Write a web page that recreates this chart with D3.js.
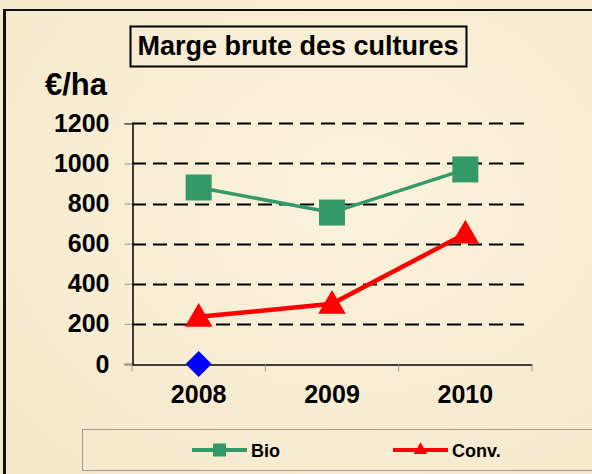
<!DOCTYPE html>
<html>
<head>
<meta charset="utf-8">
<script src="https://cdn.jsdelivr.net/npm/d3@7"></script>
<style>
  body { margin: 0; background: #f8eed6; }
  svg { display: block; font-family: "Liberation Sans", Arial, sans-serif; font-weight: bold; }
</style>
</head>
<body>
<div id="chart"></div>
<script>
// data
var years = ["2008", "2009", "2010"];
var bio = [880, 755, 970];
var conv = [235, 300, 650];
var extra = [0];            // lone blue point at 2008
var yTicks = [0, 200, 400, 600, 800, 1000, 1200];
var seriesNames = ["Bio", "Conv."];

var W = 592, H = 474;

var svg = d3.select("#chart")
  .append("svg")
  .attr("width", W)
  .attr("height", H);

// parchment background
var defs = svg.append("defs");
var grad = defs.append("radialGradient").attr("id", "bg")
  .attr("cx", "60%").attr("cy", "40%").attr("r", "80%");
grad.append("stop").attr("offset", "0%").attr("stop-color", "#fbf2dc");
grad.append("stop").attr("offset", "100%").attr("stop-color", "#f5e9cc");
svg.append("rect").attr("width", W).attr("height", H).attr("fill", "url(#bg)");

// chart frame (top and left edges visible)
svg.append("line").attr("x1", 3).attr("x2", W).attr("y1", 10).attr("y2", 10)
  .attr("stroke", "#111").attr("stroke-width", 2);
svg.append("line").attr("x1", 4.5).attr("x2", 4.5).attr("y1", 9).attr("y2", H)
  .attr("stroke", "#111").attr("stroke-width", 3);

// scales
var x = d3.scaleBand().domain(years).range([132, 532]).padding(0);
var y = d3.scaleLinear().domain([0, 1200]).range([364, 123.3]);
var cx = function (d) { return x(d) + x.bandwidth() / 2; };

// dashed gridlines
svg.append("g")
  .selectAll("line")
  .data(yTicks.filter(function (d) { return d > 0; }))
  .enter()
  .append("line")
  .attr("x1", 132).attr("x2", 528)
  .attr("y1", function (d) { return Math.round(y(d)) + 0.5; })
  .attr("y2", function (d) { return Math.round(y(d)) + 0.5; })
  .attr("stroke", "#000")
  .attr("stroke-width", 2)
  .attr("stroke-dasharray", "14,7");

// y axis
var yAxis = svg.append("g")
  .attr("transform", "translate(132.5,0)")
  .call(d3.axisLeft(y).tickValues(yTicks).tickFormat(d3.format("d")).tickSize(8).tickPadding(15));
yAxis.select(".domain").attr("stroke", "#000").attr("stroke-width", 1.5);
yAxis.selectAll(".tick line").attr("stroke", "#999");
yAxis.selectAll(".tick text")
  .attr("fill", "#000")
  .style("font-size", "25px")
  .style("font-weight", "bold");

// x axis: labels at category centres, tick marks at band edges
var xAxis = svg.append("g")
  .attr("transform", "translate(0,364.5)")
  .call(d3.axisBottom(x).tickSize(0).tickPadding(21));
xAxis.select(".domain").attr("stroke", "#000").attr("stroke-width", 1.5);
xAxis.selectAll(".tick text")
  .attr("fill", "#000")
  .style("font-size", "25px")
  .style("font-weight", "bold");
xAxis.selectAll(".edge")
  .data(d3.range(years.length + 1))
  .enter()
  .append("line")
  .attr("x1", function (i) { return 132 + i * x.step(); })
  .attr("x2", function (i) { return 132 + i * x.step(); })
  .attr("y1", 0).attr("y2", 7)
  .attr("stroke", "#999");

// lines
var line = d3.line()
  .x(function (d, i) { return cx(years[i]); })
  .y(function (d) { return y(d); });

svg.append("path").datum(bio)
  .attr("d", line).attr("fill", "none")
  .attr("stroke", "#339966").attr("stroke-width", 3.5);
svg.append("path").datum(conv)
  .attr("d", line).attr("fill", "none")
  .attr("stroke", "#ff0000").attr("stroke-width", 4.5);

// markers
var sq = d3.symbol().type(d3.symbolSquare).size(26 * 26);
var tri = d3.symbol().type(d3.symbolTriangle).size(330);
var dia = d3.symbol().type(d3.symbolSquare).size(18.5 * 18.5);

svg.append("g").selectAll("path")
  .data(bio).enter().append("path")
  .attr("d", sq)
  .attr("transform", function (d, i) { return "translate(" + cx(years[i]) + "," + y(d) + ")"; })
  .attr("fill", "#339966");

svg.append("g").selectAll("path")
  .data(conv).enter().append("path")
  .attr("d", tri)
  .attr("transform", function (d, i) { return "translate(" + cx(years[i]) + "," + (y(d) + 2) + ")"; })
  .attr("fill", "#ff0000");

svg.append("g").selectAll("path")
  .data(extra).enter().append("path")
  .attr("d", dia)
  .attr("transform", function (d, i) { return "translate(" + cx(years[i]) + "," + y(d) + ") rotate(45)"; })
  .attr("fill", "#0000ff");

// title box
svg.append("rect")
  .attr("x", 130.5).attr("y", 26.5).attr("width", 336).attr("height", 40)
  .attr("fill", "none").attr("stroke", "#000").attr("stroke-width", 2);
svg.append("text")
  .attr("x", 298).attr("y", 55)
  .attr("text-anchor", "middle")
  .style("font-size", "27px")
  .text("Marge brute des cultures");

// unit label
svg.append("text")
  .attr("x", 45).attr("y", 95)
  .style("font-size", "31px")
  .text("€/ha");

// legend
svg.append("rect")
  .attr("x", 82.5).attr("y", 429.5).attr("width", 530).attr("height", 41)
  .attr("fill", "none").attr("stroke", "#a09a8c").attr("stroke-width", 1);

var legendX = [192, 393];
var legendCol = ["#339966", "#ff0000"];
var legendSym = [d3.symbol().type(d3.symbolSquare).size(13 * 13),
                 d3.symbol().type(d3.symbolTriangle).size(80)];
var lg = svg.append("g").selectAll("g")
  .data(seriesNames).enter().append("g")
  .attr("transform", function (d, i) { return "translate(" + legendX[i] + ",450)"; });
lg.append("line")
  .attr("x1", 0).attr("x2", 55).attr("y1", 0).attr("y2", 0)
  .attr("stroke", function (d, i) { return legendCol[i]; })
  .attr("stroke-width", 4);
lg.append("path")
  .attr("d", function (d, i) { return legendSym[i](); })
  .attr("transform", "translate(27.5,0)")
  .attr("fill", function (d, i) { return legendCol[i]; });
lg.append("text")
  .attr("x", 59).attr("y", 6.5)
  .style("font-size", "18px")
  .text(function (d) { return d; });
</script>
</body>
</html>
